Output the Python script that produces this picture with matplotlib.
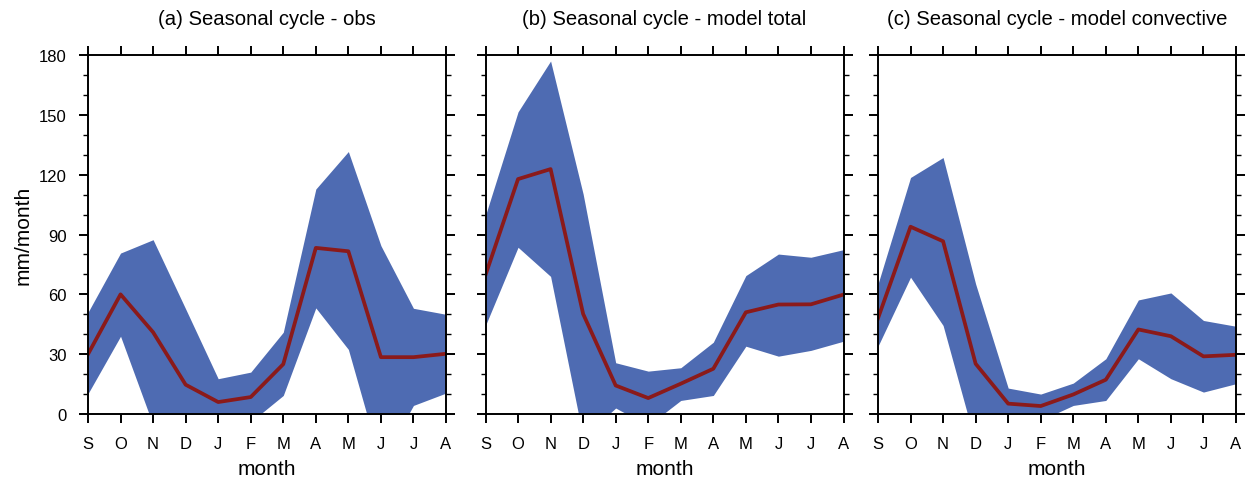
import numpy as np
import matplotlib
matplotlib.use("Agg")
import matplotlib.pyplot as plt
from matplotlib.ticker import MultipleLocator

plt.rcParams['font.family'] = ['Liberation Sans', 'DejaVu Sans']

months = ["S", "O", "N", "D", "J", "F", "M", "A", "M", "J", "J", "A"]

# (a) obs
obs_mean = [30, 60, 41, 14.7, 6, 8.5, 25, 83.3, 81.6, 28.5, 28.5, 30.2]
obs_upper = [51, 80.7, 87.4, 52.7, 17.7, 21, 41, 112.8, 131.6, 84.4, 53, 50]
obs_lower = [10.2, 39, -5.5, -10, -6, -4, 9.3, 53.2, 32.4, -25, 4.3, 10.5]

# (b) model total
tot_mean = [69.7, 117.8, 122.8, 50.2, 14.3, 8, 15.2, 22.7, 51, 54.9, 55, 59.9]
tot_upper = [99.6, 151.5, 177, 110.3, 25.7, 21.5, 23.2, 36, 69.4, 80.2, 78.6, 82.4]
tot_lower = [44.4, 83.6, 69, -11.6, 3, -5.8, 6.8, 9.3, 34, 29, 31.9, 36.5]

# (c) model convective
conv_mean = [48, 93.9, 86.6, 25.2, 5.2, 4, 9.8, 17.2, 42.4, 39, 28.9, 29.7]
conv_upper = [65.2, 118.6, 128.6, 65.2, 13, 10, 15.5, 27.7, 57.2, 60.7, 46.9, 44]
conv_lower = [34, 68.6, 44.4, -14.8, -6, -3.2, 4.3, 6.8, 27.7, 17.7, 11, 15.2]

titles = ["(a) Seasonal cycle - obs",
          "(b) Seasonal cycle - model total",
          "(c) Seasonal cycle - model convective"]
panels = [(obs_mean, obs_upper, obs_lower),
          (tot_mean, tot_upper, tot_lower),
          (conv_mean, conv_upper, conv_lower)]

fill_color = "#4e6bb2"
line_color = "#8b1a1a"

fig = plt.figure(figsize=(12.5, 4.85), dpi=100)
lefts = [0.0704, 0.3884, 0.7024]
x = np.arange(len(months))

for i, (mean, upper, lower) in enumerate(panels):
    ax = fig.add_axes([lefts[i], 0.1443, 0.2864, 0.7402])
    ax.fill_between(x, lower, upper, color=fill_color, linewidth=0)
    ax.plot(x, mean, color=line_color, linewidth=2.7)
    ax.set_xlim(0, 11)
    ax.set_ylim(0, 180)
    ax.set_xticks(x)
    ax.set_xticklabels(months)
    ax.yaxis.set_major_locator(MultipleLocator(30))
    ax.yaxis.set_minor_locator(MultipleLocator(10))
    ax.tick_params(which="major", direction="out", length=6.5, width=1.4,
                   top=True, right=True, labelsize=12, pad=9)
    ax.tick_params(which="minor", direction="out", length=3.5, width=1.0,
                   top=False, right=True)
    ax.tick_params(axis="x", which="minor", bottom=False, top=False)
    for sp in ax.spines.values():
        sp.set_linewidth(1.4)
    if i > 0:
        ax.set_yticklabels([])
    else:
        ax.set_ylabel("mm/month", fontsize=15)
    ax.set_xlabel("month", fontsize=15, labelpad=6)
    ax.set_title(titles[i], fontsize=14.6, pad=22)

fig.savefig("out.png", dpi=100)
